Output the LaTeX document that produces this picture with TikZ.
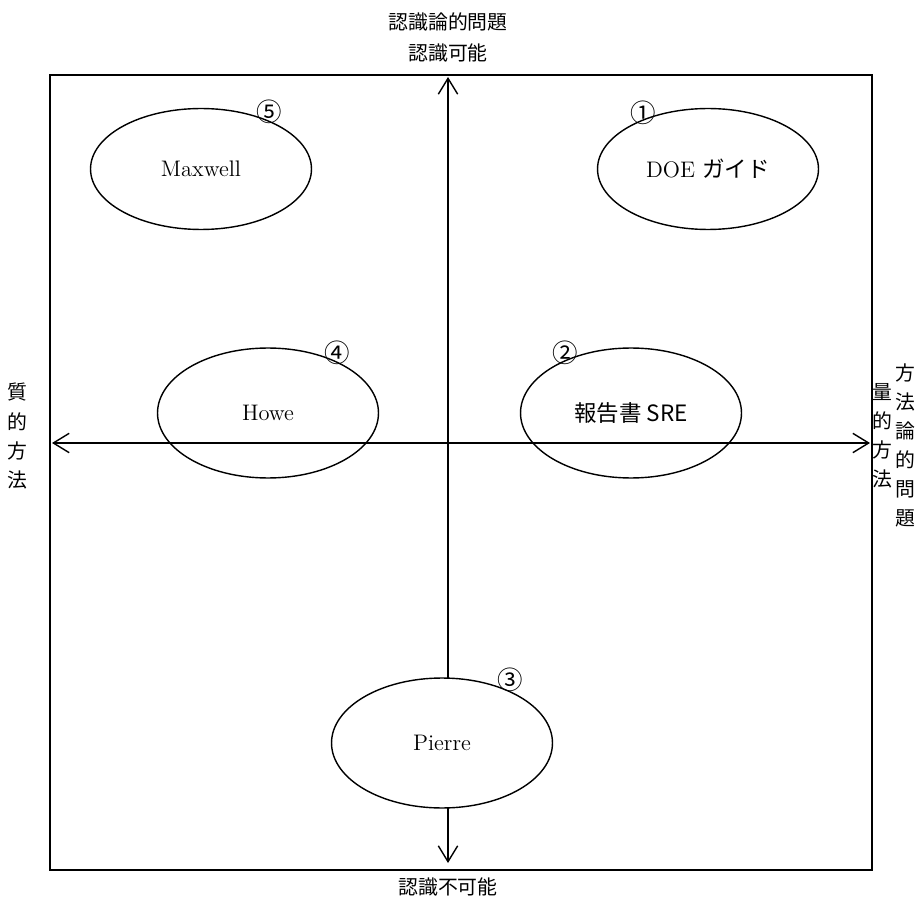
\documentclass[tikz,border=0pt]{standalone}
\usepackage{fontspec}
\newfontfamily\cjk{Noto Sans CJK JP}
\usepackage{tikz}
\usetikzlibrary{positioning,shapes.geometric,arrows.meta}

\begin{document}
\begin{tikzpicture}[x=0.02cm, y=-0.02cm,
			ovalnode/.style={ellipse, draw=black, fill=white, line width=0.8pt, inner sep=0pt, minimum width=4.42cm, minimum height=2.6cm, font=\fontsize{12.8}{15}\selectfont},
			numnode/.style={inner sep=0pt, font=\cjk\fontsize{14.5}{15}\selectfont},
			jlabel/.style={inner sep=0pt, align=center, font=\cjk\fontsize{11.3}{12.6}\selectfont},
			axis/.style={line width=0.8pt, {Straight Barb[length=9pt,width=11pt]}-{Straight Barb[length=9pt,width=11pt]}},
		]
		
			\useasboundingbox (0,0) rectangle (916,905);
		
			%Frame
			\draw[line width=0.8pt] (50,75) rectangle (872,870);
		
			%Axis ends
			\coordinate (top)    at (448,77);
			\coordinate (bottom) at (448,863);
			\coordinate (left)   at (52,443);
			\coordinate (right)  at (870,443);
		
			%Vertical axis
			\draw[axis] (bottom) -- (top);
		
			%Nodes
			\node[ovalnode, minimum height=2.42cm]	(maxwell)	at (201,169)	{Maxwell};
			\node[ovalnode, minimum height=2.42cm]	(doe)		at (708,169)	{DOE \cjk{ガイド}};
			\node[ovalnode]	(howe)		at (268,413)	{Howe};
			\node[ovalnode]	(sre)		at (631,413)	{\cjk{報告書} SRE};
			\node[ovalnode]	(pierre)	at (442,743)	{Pierre};
		
			\node[numnode]	(n1)	at (643,113)	{①};
			\node[numnode]	(n2)	at (565,353)	{②};
			\node[numnode]	(n3)	at (510,680)	{③};
			\node[numnode]	(n4)	at (337,353)	{④};
			\node[numnode]	(n5)	at (269,112)	{⑤};
		
			%Horizontal axis
			\draw[axis] (left) -- (right);
		
			%Labels
			\node[jlabel]	(epist)		at (448,22)	{認識論的問題};
			\node[jlabel]	(know)		[below=7pt of epist]	{認識可能};
			\node[jlabel]	(unknow)	at (448,887)	{認識不可能};
			\node[jlabel, anchor=north]	(qual)		at (17,383)	{質\\[4pt]的\\[4pt]方\\[4pt]法};
			\node[jlabel, anchor=north]	(quant)		at (882,383)	{量\\[4pt]的\\[4pt]方\\[4pt]法};
			\node[jlabel, anchor=north]	(method)	at (905,363)	{方\\[4pt]法\\[4pt]論\\[4pt]的\\[4pt]問\\[4pt]題};
		
		\end{tikzpicture}
\end{document}
